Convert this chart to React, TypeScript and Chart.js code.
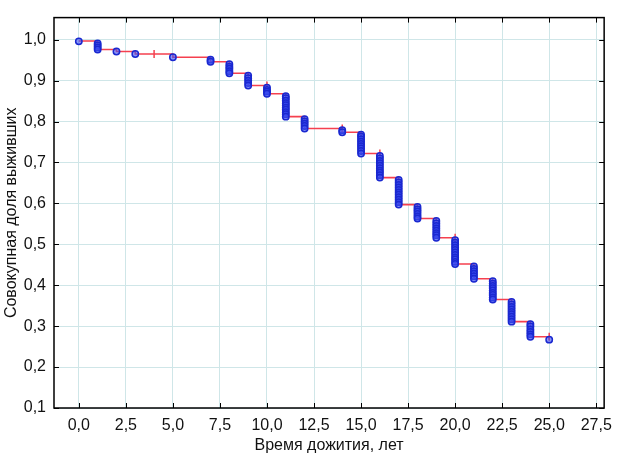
import { useEffect, useRef } from "react";
import { Chart, registerables } from "chart.js";

Chart.register(...registerables);

// Kaplan–Meier step curve (time in years, cumulative survival after that time)
const stepTimes = [0, 1, 2, 3, 5, 7, 8, 9, 10, 11, 12, 14, 15, 16, 17, 18, 19, 20, 21, 22, 23, 24, 25];
const stepSurvival = [0.997, 0.976, 0.971, 0.965, 0.957, 0.946, 0.918, 0.888, 0.868, 0.812, 0.783, 0.774, 0.722, 0.663, 0.597, 0.563, 0.516, 0.452, 0.416, 0.365, 0.311, 0.274, 0.267];

// Complete observations (blue circles), grouped per time
const eventTimes = [0, 1, 2, 3, 5, 7, 8, 9, 10, 11, 12, 14, 15, 16, 17, 18, 19, 20, 21, 22, 23, 24, 25];
const eventSurvival = [
  [0.996],
  [0.991, 0.986, 0.981, 0.976],
  [0.971],
  [0.965],
  [0.957],
  [0.951, 0.946],
  [0.940, 0.934, 0.929, 0.923, 0.918],
  [0.912, 0.906, 0.900, 0.894, 0.888],
  [0.883, 0.877, 0.873, 0.868],
  [0.862, 0.857, 0.851, 0.845, 0.840, 0.834, 0.829, 0.823, 0.818, 0.812],
  [0.806, 0.800, 0.795, 0.789, 0.783],
  [0.779, 0.774],
  [0.768, 0.763, 0.757, 0.751, 0.745, 0.740, 0.734, 0.728, 0.722],
  [0.716, 0.710, 0.704, 0.698, 0.692, 0.686, 0.680, 0.675, 0.669, 0.663],
  [0.657, 0.651, 0.645, 0.639, 0.633, 0.627, 0.621, 0.615, 0.609, 0.603, 0.597],
  [0.591, 0.585, 0.580, 0.574, 0.568, 0.563],
  [0.557, 0.551, 0.545, 0.539, 0.533, 0.527, 0.522, 0.516],
  [0.510, 0.504, 0.498, 0.492, 0.486, 0.480, 0.474, 0.468, 0.463, 0.457, 0.452],
  [0.446, 0.440, 0.434, 0.428, 0.422, 0.416],
  [0.410, 0.404, 0.398, 0.393, 0.387, 0.381, 0.376, 0.370, 0.365],
  [0.359, 0.353, 0.347, 0.341, 0.335, 0.329, 0.323, 0.317, 0.311],
  [0.305, 0.299, 0.292, 0.286, 0.280, 0.274],
  [0.267],
];

// Censored observations (red "+" marks)
const censorTimes = [4, 10, 14, 16, 20, 25];
const censorSurvival = [0.965, 0.888, 0.783, 0.722, 0.516, 0.274];

const xTicks = [0, 2.5, 5, 7.5, 10, 12.5, 15, 17.5, 20, 22.5, 25, 27.5];
const yTicks = [0.1, 0.2, 0.3, 0.4, 0.5, 0.6, 0.7, 0.8, 0.9, 1.0];

const xTitle = "Время дожития, лет";
const yTitle = "Совокупная доля выживших";

const FONT = "'Liberation Sans', Arial, Helvetica, sans-serif";
const fmt = (v: number) => v.toFixed(1).replace(".", ",");

const framePlugin = {
  id: "frame",
  afterDraw(chart: any) {
    const { ctx, chartArea, scales } = chart;
    const { left, right, top, bottom } = chartArea;
    ctx.save();
    ctx.strokeStyle = "#000";
    ctx.lineWidth = 1;
    ctx.beginPath();
    xTicks.forEach((v) => {
      const px = Math.round(scales.x.getPixelForValue(v)) + 0.5;
      ctx.moveTo(px, bottom);
      ctx.lineTo(px, bottom - 5);
      ctx.moveTo(px, top);
      ctx.lineTo(px, top + 5);
    });
    yTicks.forEach((v) => {
      const py = Math.round(scales.y.getPixelForValue(v)) + 0.5;
      ctx.moveTo(left, py);
      ctx.lineTo(left + 5, py);
      ctx.moveTo(right, py);
      ctx.lineTo(right - 5, py);
    });
    ctx.stroke();
    ctx.lineWidth = 1.5;
    ctx.strokeRect(left, top, right - left, bottom - top);
    ctx.restore();
  },
};

export default function App() {
  const canvasRef = useRef<HTMLCanvasElement | null>(null);

  useEffect(() => {
    if (!canvasRef.current) return;
    const lineData = stepTimes.map((t, i) => ({ x: t, y: stepSurvival[i] }));
    const eventData: { x: number; y: number }[] = [];
    eventTimes.forEach((t, i) => {
      eventSurvival[i].forEach((s) => eventData.push({ x: t, y: s }));
    });
    const censorData = censorTimes.map((t, i) => ({ x: t, y: censorSurvival[i] }));

    const font = { family: FONT, size: 16 };

    const chart = new Chart(canvasRef.current, {
      type: "line",
      data: {
        datasets: [
          {
            type: "scatter",
            data: eventData,
            order: 0,
            pointStyle: "circle",
            pointRadius: 3.2,
            pointBorderWidth: 1.5,
            pointBorderColor: "#1a28d0",
            pointBackgroundColor: "rgba(60,80,245,0.6)",
            showLine: false,
          } as any,
          {
            type: "scatter",
            data: censorData,
            order: 1,
            pointStyle: "line",
            rotation: 90,
            pointRadius: 4,
            pointBorderWidth: 1.5,
            pointBorderColor: "#f5404f",
            showLine: false,
          } as any,
          {
            type: "line",
            data: lineData,
            order: 2,
            stepped: "before",
            borderColor: "#f5404f",
            borderWidth: 1.6,
            pointRadius: 0,
            fill: false,
          } as any,
        ],
      },
      options: {
        animation: false,
        responsive: false,
        devicePixelRatio: 1,
        layout: { padding: { left: 0, right: 13, top: 8, bottom: 0 } },
        plugins: { legend: { display: false }, tooltip: { enabled: false } },
        scales: {
          x: {
            type: "linear",
            min: -1.32,
            max: 27.92,
            afterBuildTicks: (s: any) => {
              s.ticks = xTicks.map((v) => ({ value: v }));
            },
            afterFit: (s: any) => {
              s.height = 52;
            },
            ticks: {
              callback: (v: any) => fmt(Number(v)),
              font,
              color: "#111",
              padding: 8,
              autoSkip: false,
              maxRotation: 0,
            },
            grid: { color: "#cfe6e8", lineWidth: 1, drawTicks: false },
            border: { display: false },
            title: {
              display: true,
              text: xTitle,
              font,
              color: "#111",
              padding: { top: 0, bottom: 5 },
            },
          },
          y: {
            type: "linear",
            min: 0.1,
            max: 1.054,
            afterBuildTicks: (s: any) => {
              s.ticks = yTicks.map((v) => ({ value: v }));
            },
            afterFit: (s: any) => {
              s.width = 54;
            },
            ticks: {
              callback: (v: any) => fmt(Number(v)),
              font,
              color: "#111",
              padding: 8,
              autoSkip: false,
            },
            grid: { color: "#cfe6e8", lineWidth: 1, drawTicks: false },
            border: { display: false },
            title: {
              display: true,
              text: yTitle,
              font,
              color: "#111",
              padding: { top: 2, bottom: 0 },
            },
          },
        },
      } as any,
      plugins: [framePlugin],
    });
    return () => chart.destroy();
  }, []);

  return (
    <div style={{ position: "absolute", left: 0, top: 0, width: 620, height: 460, background: "#fff" }}>
      <canvas ref={canvasRef} width={620} height={460} />
    </div>
  );
}
